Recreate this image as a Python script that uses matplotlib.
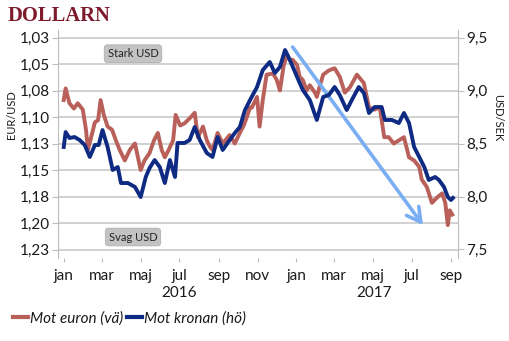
import matplotlib
matplotlib.use('Agg')
import matplotlib.pyplot as plt
import numpy as np
from matplotlib.lines import Line2D
from matplotlib.transforms import blended_transform_factory

# ---------------- data ----------------
# days since 2016-01-01
red_day = [0, 3, 9, 16, 22, 30, 35, 38, 44, 49, 54, 58, 63, 69, 76, 82, 88, 96, 104, 112,
           116, 121, 127, 135, 142, 148, 154, 159, 165, 172, 176, 183, 190, 200, 206, 211,
           219, 225, 230, 234, 242, 250, 261, 269, 277, 283, 288, 293, 296, 304, 308, 313,
           319, 329, 335, 340, 346, 351, 356, 360, 367, 371, 376, 382, 387, 395, 398, 403,
           408, 417, 426, 434, 442, 450, 461, 472, 480, 489, 497, 504, 511, 519, 527, 535,
           543, 551, 559, 563, 571, 579, 587, 595, 600, 604, 607, 611]
# EUR/USD (left axis, inverted)
red_val = [1.084, 1.073, 1.087, 1.092, 1.087, 1.093, 1.112, 1.131, 1.117, 1.105, 1.103, 1.084,
           1.098, 1.109, 1.112, 1.122, 1.131, 1.141, 1.131, 1.125, 1.136, 1.150, 1.141, 1.134,
           1.122, 1.115, 1.131, 1.138, 1.131, 1.122, 1.098, 1.108, 1.106, 1.100, 1.096, 1.119,
           1.109, 1.122, 1.128, 1.131, 1.115, 1.125, 1.117, 1.125, 1.115, 1.108, 1.100, 1.091,
           1.091, 1.081, 1.109, 1.084, 1.060, 1.059, 1.065, 1.075, 1.051, 1.042, 1.046, 1.046,
           1.051, 1.062, 1.065, 1.075, 1.070, 1.077, 1.081, 1.070, 1.060, 1.056, 1.054, 1.062,
           1.077, 1.072, 1.060, 1.068, 1.091, 1.093, 1.091, 1.119, 1.119, 1.125, 1.122, 1.119,
           1.138, 1.141, 1.147, 1.159, 1.166, 1.181, 1.176, 1.172, 1.181, 1.202, 1.188, 1.192]

blue_day = [0, 3, 9, 17, 25, 33, 41, 49, 55, 61, 69, 77, 85, 90, 101, 112, 121, 129, 135, 143,
            151, 159, 167, 175, 179, 190, 198, 206, 214, 225, 234, 242, 250, 261, 269, 277,
            285, 293, 304, 313, 324, 332, 340, 348, 352, 359, 367, 376, 387, 398, 408, 417,
            426, 434, 445, 453, 464, 472, 480, 489, 500, 505, 516, 527, 535, 543, 551, 559,
            567, 574, 584, 590, 598, 604, 609, 612]
# USD/SEK (right axis)
blue_val = [8.467, 8.608, 8.552, 8.561, 8.533, 8.486, 8.373, 8.486, 8.486, 8.627, 8.467, 8.250,
            8.278, 8.127, 8.127, 8.090, 7.995, 8.184, 8.269, 8.344, 8.278, 8.127, 8.344, 8.184,
            8.505, 8.505, 8.533, 8.656, 8.533, 8.410, 8.373, 8.561, 8.439, 8.533, 8.599, 8.656,
            8.816, 8.910, 9.033, 9.193, 9.269, 9.165, 9.222, 9.382, 9.335, 9.241, 9.127, 9.005,
            8.910, 8.722, 8.939, 8.958, 9.033, 8.958, 8.816, 8.910, 9.033, 8.976, 8.788, 8.844,
            8.844, 8.722, 8.722, 8.693, 8.788, 8.693, 8.467, 8.373, 8.278, 8.156, 8.184, 8.156,
            8.090, 7.995, 7.967, 7.986]

left_ticks = [1.025, 1.05, 1.075, 1.10, 1.125, 1.15, 1.175, 1.20, 1.225]
left_labels = ['1,03', '1,05', '1,08', '1,10', '1,13', '1,15', '1,18', '1,20', '1,23']
right_ticks = [7.5, 8.0, 8.5, 9.0, 9.5]
right_labels = ['7,5', '8,0', '8,5', '9,0', '9,5']
month_ticks = ['2016-01-01', '2016-03-01', '2016-05-01', '2016-07-01', '2016-09-01',
               '2016-11-01', '2017-01-01', '2017-03-01', '2017-05-01', '2017-07-01',
               '2017-09-01']
month_labels = ['jan', 'mar', 'maj', 'jul', 'sep', 'nov', 'jan', 'mar', 'maj', 'jul', 'sep']
years = ['2016', '2017']
year_pos = ['2016-07-01', '2017-05-03']
series_names = ['Mot euron (vä)', 'Mot kronan (hö)']
arrow_from = ('2016-12-26', 1.034)
arrow_to = ('2017-07-19', 1.202)

# ---------------- style ----------------
RED = '#b9605a'
BLUE = '#0e2a82'
GRID = '#c9c9c9'
SPINE = '#bdbdbd'
TXT = '#1a1a1a'

plt.rcParams['font.family'] = ['Lato', 'DejaVu Sans']

fig = plt.figure(figsize=(5.1, 3.41), dpi=100)
ax = fig.add_axes([58 / 510, (341 - 258) / 341, 400 / 510, 228 / 341])

base = np.datetime64('2016-01-01')
red_x = base + np.array(red_day).astype('timedelta64[D]')
blue_x = base + np.array(blue_day).astype('timedelta64[D]')

ax.plot(red_x, red_val, color=RED, lw=2.8, solid_joinstyle='round', zorder=3)
ax.set_ylim(1.233, 1.0179)
ax.set_yticks(left_ticks)
ax.set_yticklabels(left_labels)
ax.grid(axis='y', color=GRID, lw=1.2)
ax.set_axisbelow(True)

ax2 = ax.twinx()
ax2.plot(blue_x, blue_val, color=BLUE, lw=2.8, solid_joinstyle='round', zorder=2)
ax2.set_ylim(7.4198, 9.5708)
ax2.set_yticks(right_ticks)
ax2.set_yticklabels(right_labels)

ax.set_xlim(base - np.timedelta64(9, 'D'), base + np.timedelta64(620, 'D'))
ax.set_xticks(np.array(month_ticks, dtype='datetime64[D]'))
ax.set_xticklabels(month_labels)

for a in (ax, ax2):
    for s in ('top', 'bottom'):
        a.spines[s].set_visible(False)
ax.spines['right'].set_visible(False)
ax2.spines['left'].set_visible(False)
ax.spines['left'].set_color(SPINE)
ax2.spines['right'].set_color(SPINE)

ax.tick_params(axis='y', length=4, color=SPINE, labelsize=11, labelcolor=TXT, pad=2)
ax2.tick_params(axis='y', length=4, color=SPINE, labelsize=11, labelcolor=TXT, pad=2)
ax.tick_params(axis='x', length=3, color=SPINE, labelsize=11, labelcolor=TXT, pad=5)

trans = blended_transform_factory(ax.transData, ax.transAxes)
for yr, pos in zip(years, year_pos):
    ax.text(np.datetime64(pos), -0.155, yr, transform=trans, ha='center', va='center',
            fontsize=11, color=TXT)

# annotations
box = dict(boxstyle='round,pad=0.3,rounding_size=0.3', facecolor='#c3c3c3',
           edgecolor='#b0b0b0', lw=0.6)
ax.text(0.1875, 0.896, 'Stark USD', transform=ax.transAxes, ha='center', va='center',
        fontsize=8, color='#222222', bbox=box, zorder=5)
ax.text(0.1875, 0.092, 'Svag USD', transform=ax.transAxes, ha='center', va='center',
        fontsize=8, color='#222222', bbox=box, zorder=5)

arr = ax.annotate('', xy=(np.datetime64(arrow_to[0]), arrow_to[1]),
                  xytext=(np.datetime64(arrow_from[0]), arrow_from[1]),
                  arrowprops=dict(arrowstyle='->,head_length=1.0,head_width=0.55',
                                  color='#79aef3', lw=2.6, shrinkA=0, shrinkB=0))
arr.set_zorder(10)

# axis titles
fig.text(12 / 510, 1 - 115 / 341, 'EUR/USD', rotation=90, ha='center', va='center',
         fontsize=8, color=TXT)
fig.text(498 / 510, 1 - 118 / 341, 'USD/SEK', rotation=-90, ha='center', va='center',
         fontsize=8, color=TXT)

# title
fig.text(8 / 510, 1 - 16 / 341, 'DOLLARN', family=['Liberation Serif', 'DejaVu Serif'],
         weight='bold', fontsize=14.8, color='#7d1a2c', ha='left', va='center')

# legend
handles = [Line2D([], [], color=RED, lw=3), Line2D([], [], color=BLUE, lw=3)]
fig.legend(handles, series_names, loc='center left', bbox_to_anchor=(0.025, 0.067),
           ncol=2, frameon=False, handlelength=1.0, handletextpad=0.12, columnspacing=0.25,
           prop={'style': 'italic', 'size': 11}, labelcolor=TXT, borderaxespad=0, borderpad=0)

fig.savefig('out.png', dpi=100)
